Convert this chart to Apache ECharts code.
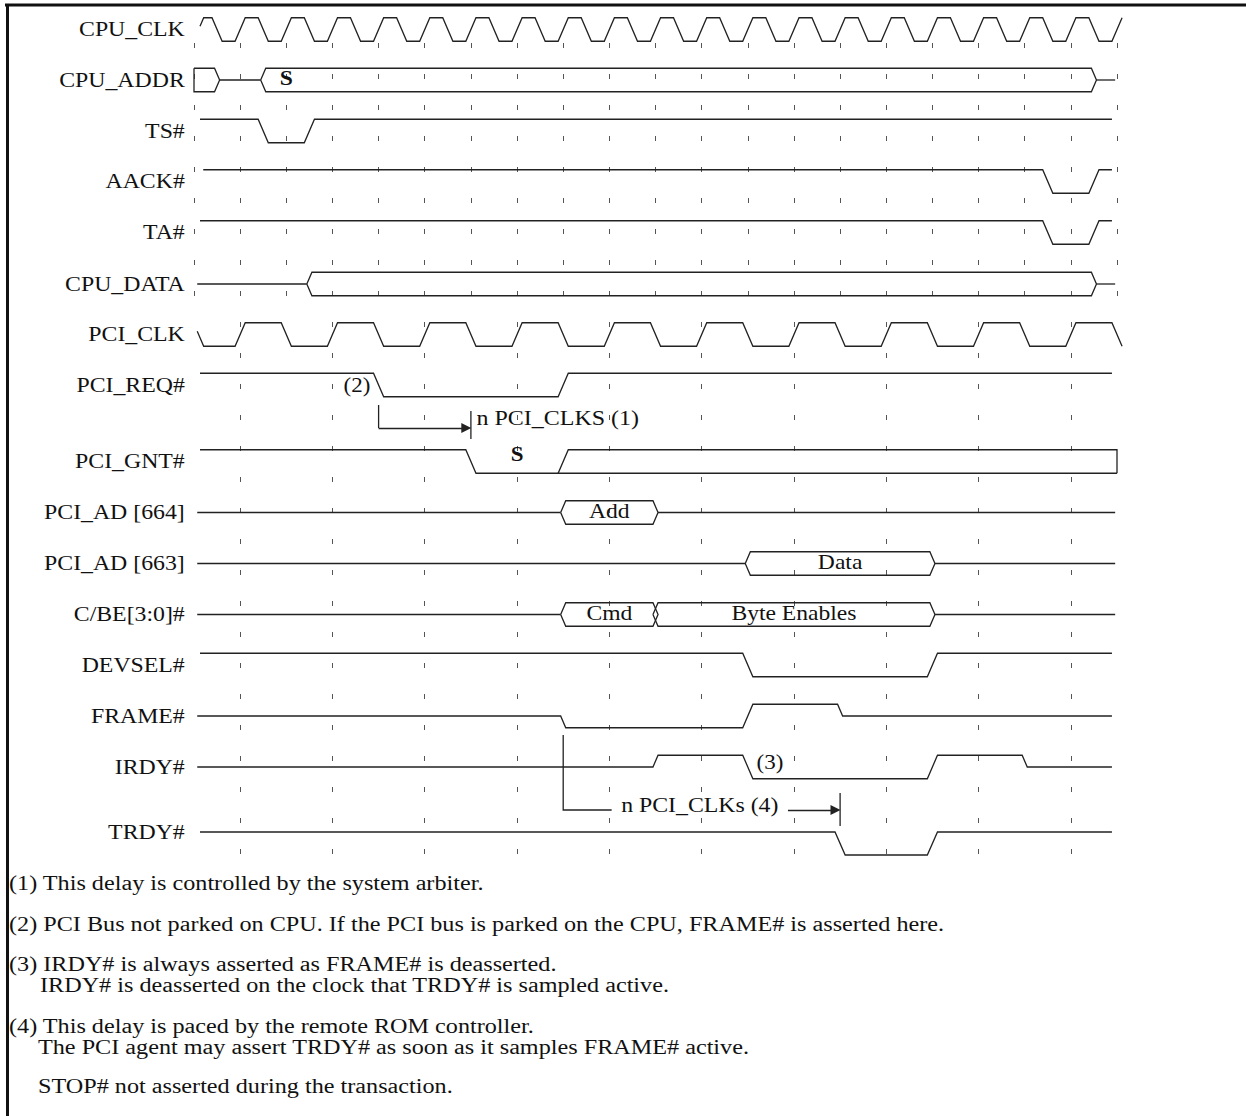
<!DOCTYPE html>
<html>
<head>
<meta charset="utf-8">
<title>PCI expansion ROM read timing</title>
<script src="https://cdn.jsdelivr.net/npm/echarts@6/dist/echarts.min.js"></script>
<style>
  html, body { margin: 0; padding: 0; background: #fff; }
  #chart { width: 1246px; height: 1116px; }
</style>
</head>
<body>
<div id="chart"></div>
<script>
// ---------- data (time is in CPU clock periods) ----------
const signalNames = ["CPU_CLK", "CPU_ADDR", "TS#", "AACK#", "TA#", "CPU_DATA", "PCI_CLK", "PCI_REQ#",
  "PCI_GNT#", "PCI_AD [664]", "PCI_AD [663]", "C/BE[3:0]#", "DEVSEL#", "FRAME#", "IRDY#", "TRDY#"];

const cpuTicks = [0, 1, 2, 3, 4, 5, 6, 7, 8, 9, 10, 11, 12, 13, 14, 15, 16, 17, 18, 19, 20];
const pciTicks = [1, 3, 5, 7, 9, 11, 13, 15, 17, 19];

// clock edges, alternating level (CPU starts rising, PCI starts falling)
const cpuClkEdges = [0.1, 0.5, 1, 1.5, 2, 2.5, 3, 3.5, 4, 4.5, 5, 5.5, 6, 6.5, 7, 7.5, 8, 8.5, 9, 9.5,
  10, 10.5, 11, 11.5, 12, 12.5, 13, 13.5, 14, 14.5, 15, 15.5, 16, 16.5, 17, 17.5, 18, 18.5, 19, 19.5, 20];
const pciClkEdges = [0.1, 1, 2, 3, 4, 5, 6, 7, 8, 9, 10, 11, 12, 13, 14, 15, 16, 17, 18, 19, 20];

// [time, new level]  1 = high, 0 = low, 0.5 = floating
const tsEdges = [[1.5, 0], [2.5, 1]];
const aackEdges = [[18.5, 0], [19.5, 1]];
const taEdges = [[18.5, 0], [19.5, 1]];
const reqEdges = [[4, 0], [8, 1]];
const gntEdges = [[6, 0]];
const gntParkEdges = [[8, 1]];
const devselEdges = [[12, 0], [16, 1]];
const frameEdges = [[8, 0], [12, 1], [14, 0.5]];
const irdyEdges = [[10, 1], [12, 0], [16, 1], [18, 0.5]];
const trdyEdges = [[14, 0], [16, 1]];

// bus valid windows [start, end, text, text time]
const cpuAddrSegs = [[0, 0.5, ""], [1.5, 19.5, "S", 2]];
const cpuDataSegs = [[2.5, 19.5, ""]];
const ad664Segs = [[8, 10, "Add"]];
const ad663Segs = [[12, 16, "Data"]];
const cbeSegs = [[8, 10, "Cmd"], [10, 16, "Byte Enables"]];

const notes = [["(2)", "PCI_REQ#", 3.53], ["(3)", "IRDY#", 12.48], ["S", "PCI_GNT#", 7]];
const delay1 = { from: 4, to: 6, text: "n PCI_CLKS (1)" };
const delay2 = { from: 8, to: 14, text: "n PCI_CLKs (4)" };

const footnotes = [
  "(1) This delay is controlled by the system arbiter.",
  "(2) PCI Bus not parked on CPU. If the PCI bus is parked on the CPU, FRAME# is asserted here.",
  "(3) IRDY# is always asserted as FRAME# is deasserted.",
  "IRDY# is deasserted on the clock that TRDY# is sampled active.",
  "(4) This delay is paced by the remote ROM controller.",
  "The PCI agent may assert TRDY# as soon as it samples FRAME# active.",
  "STOP# not asserted during the transaction."
];

// ---------- layout ----------
const W = 1246, H = 1116, X0 = 194, UNIT = 46.15;
const rowMid = [29.5, 80, 131, 181.5, 232.5, 284, 334.5, 385, 461.5, 512.5, 563.5, 614.5, 665, 716, 767, 843.5];
const HALF = 11.75;
const SLEW = 0.22;      // full swing edge time
const BUS_W = 0.055;    // half width of a bus crossing
const GRID_TOP = 43, GRID_SPLIT = 300, GRID_BOTTOM = 860;
const footX = [9, 9, 9, 40, 9, 38, 38];
const footY = [883, 924, 964, 985, 1026, 1047, 1086];
const INK = "#222";
const FONT = '"Liberation Serif", "DejaVu Serif", serif';

const rowIdx = (name) => signalNames.indexOf(name);
const hiY = (name) => name === "TRDY#" ? 832 : rowMid[rowIdx(name)] - HALF;
const loY = (name) => name === "TRDY#" ? 855 : rowMid[rowIdx(name)] + HALF;
const lvY = (name, lv) => loY(name) + (hiY(name) - loY(name)) * lv;

function clipX(pts, a, b) {
  const out = [];
  for (let i = 0; i < pts.length - 1; i++) {
    const [x1, y1] = pts[i], [x2, y2] = pts[i + 1];
    if (x2 < a || x1 > b) continue;
    const at = (x) => (x2 === x1 ? y1 : y1 + (y2 - y1) * (x - x1) / (x2 - x1));
    const p1 = x1 < a ? [a, at(a)] : [x1, y1];
    const p2 = x2 > b ? [b, at(b)] : [x2, y2];
    if (!out.length) out.push(p1);
    out.push(p2);
  }
  return out;
}

function wave(name, from, to, lv0, edges, closeEnd) {
  const pts = [[from - 1, lv0]];
  let cur = lv0;
  edges.forEach(([t, lv]) => {
    const d = SLEW * Math.abs(lv - cur) / 2;
    pts.push([t - d, cur], [t + d, lv]);
    cur = lv;
  });
  pts.push([to + 1, cur]);
  const coords = clipX(pts, from, to).map(([t, lv]) => [t, lvY(name, lv)]);
  if (closeEnd) coords.push([to, loY(name)]);
  return { coords };
}

function clock(times, firstLevel) {
  return times.map((t, i) => [t, i % 2 === 0 ? firstLevel : 1 - firstLevel]);
}

const busTexts = [];
function bus(name, from, to, segs) {
  const hi = hiY(name), lo = loY(name), mid = (hi + lo) / 2, w = BUS_W;
  const polys = [];
  let z = from;
  segs.forEach(([t0, t1, text, tx]) => {
    if (t0 - w > z) polys.push({ coords: [[z, mid], [t0 - w, mid]] });
    if (t0 <= from) {
      polys.push({ coords: [[from, hi], [t1 - w, hi], [t1 + w, mid], [t1 - w, lo], [from, lo], [from, hi]] });
    } else {
      polys.push({ coords: [[t0 - w, mid], [t0 + w, hi], [t1 - w, hi], [t1 + w, mid], [t1 - w, lo], [t0 + w, lo], [t0 - w, mid]] });
    }
    if (text) busTexts.push([text, tx !== undefined ? tx : (t0 + t1) / 2, mid]);
    z = t1 + w;
  });
  if (z < to) polys.push({ coords: [[z, mid], [to, mid]] });
  return polys;
}

const traces = [
  wave("CPU_CLK", 0.13, 20.11, 0, clock(cpuClkEdges, 1)),
  ...bus("CPU_ADDR", 0, 19.96, cpuAddrSegs),
  wave("TS#", 0.13, 19.89, 1, tsEdges),
  wave("AACK#", 0.2, 19.89, 1, aackEdges),
  wave("TA#", 0.13, 19.89, 1, taEdges),
  ...bus("CPU_DATA", 0.07, 19.96, cpuDataSegs),
  wave("PCI_CLK", 0.07, 20.11, 1, clock(pciClkEdges, 0)),
  wave("PCI_REQ#", 0.13, 19.89, 1, reqEdges),
  wave("PCI_GNT#", 0.13, 20, 1, gntEdges),
  wave("PCI_GNT#", 7.88, 20, 0, gntParkEdges, true),
  ...bus("PCI_AD [664]", 0.07, 19.96, ad664Segs),
  ...bus("PCI_AD [663]", 0.07, 19.96, ad663Segs),
  ...bus("C/BE[3:0]#", 0.07, 19.96, cbeSegs),
  wave("DEVSEL#", 0.13, 19.89, 1, devselEdges),
  wave("FRAME#", 0.07, 19.89, 0.5, frameEdges),
  wave("IRDY#", 0.07, 19.89, 0.5, irdyEdges),
  wave("TRDY#", 0.13, 19.89, 1, trdyEdges)
];

const tickLines = cpuTicks.map((k) => ({ coords: [[k, GRID_TOP], [k, pciTicks.includes(k) ? GRID_BOTTOM : GRID_SPLIT]] }));

// delay markers
const plainSegs = [
  { coords: [[delay1.from, 405], [delay1.from, 428]] },
  { coords: [[delay1.to, 411], [delay1.to, 439]] },
  { coords: [[delay2.from, 735], [delay2.from, 810], [9.05, 810]] },
  { coords: [[delay2.to, 793], [delay2.to, 826]] }
];
const arrowSegs = [
  { coords: [[delay1.from, 428], [delay1.to - 0.1, 428]] },
  { coords: [[12.87, 810], [delay2.to - 0.1, 810]] }
];

const chart = echarts.init(document.getElementById("chart"), null, { renderer: "svg" });
chart.setOption({
  animation: false,
  backgroundColor: "#fff",
  grid: { left: 0, right: 0, top: 0, bottom: 0, outerBoundsMode: "none" },
  xAxis: { type: "value", min: -X0 / UNIT, max: (W - X0) / UNIT, show: false },
  yAxis: { type: "value", min: 0, max: H, inverse: true, show: false },
  series: [
    {
      type: "lines", coordinateSystem: "cartesian2d", silent: true, z: 1,
      data: tickLines,
      lineStyle: { color: "#555", width: 1, type: [5, 26], opacity: 1 }
    },
    {
      type: "lines", coordinateSystem: "cartesian2d", polyline: true, silent: true, z: 2,
      data: traces.concat(plainSegs),
      lineStyle: { color: INK, width: 1.3, opacity: 1 }
    },
    {
      type: "lines", coordinateSystem: "cartesian2d", silent: true, z: 2,
      symbol: ["none", "triangle"], symbolSize: [9, 10],
      data: arrowSegs,
      lineStyle: { color: INK, width: 1.3, opacity: 1 }
    }
  ]
});

// texts placed through the chart's own coordinate system
const px = (t, y) => chart.convertToPixel({ gridIndex: 0 }, [t, y]);
function txt(text, p, size, align, sx, weight) {
  return {
    type: "text", x: p[0], y: p[1], scaleX: sx, silent: true, z: 10,
    style: { text, fill: "#111", font: (weight || "normal") + " " + size + "px " + FONT, align,
      verticalAlign: "middle", textAlign: align, textVerticalAlign: "middle" }
  };
}
const graphics = [
  { type: "line", shape: { x1: 5, y1: 5, x2: W, y2: 5 }, style: { stroke: "#111", lineWidth: 3 } },
  { type: "line", shape: { x1: 7.5, y1: 4, x2: 7.5, y2: H }, style: { stroke: "#111", lineWidth: 3 } }
];
signalNames.forEach((n, i) => {
  const y = n === "TRDY#" ? hiY(n) : rowMid[i];
  graphics.push(txt(n, px(-0.2, y), 20, "right", 1.19));
});
busTexts.forEach(([text, t, y]) => graphics.push(txt(text, px(t, y - 1), 20, "center", 1.18, text === "S" ? "bold" : "normal")));
notes.forEach(([text, name, t]) => {
  const dy = name === "PCI_GNT#" ? -6.5 : name === "IRDY#" ? -4 : 1;
  graphics.push(txt(text, px(t, rowMid[rowIdx(name)] + dy), 20, "center", 1.15, text === "S" ? "bold" : "normal"));
});
graphics.push(txt(delay1.text, px(6.12, 418), 20, "left", 1.2));
graphics.push(txt(delay2.text, px(10.96, 805), 20, "center", 1.19));
footnotes.forEach((f, i) => graphics.push(txt(f, [footX[i], footY[i]], 20, "left", 1.21)));
chart.setOption({ graphic: graphics });
</script>
</body>
</html>
